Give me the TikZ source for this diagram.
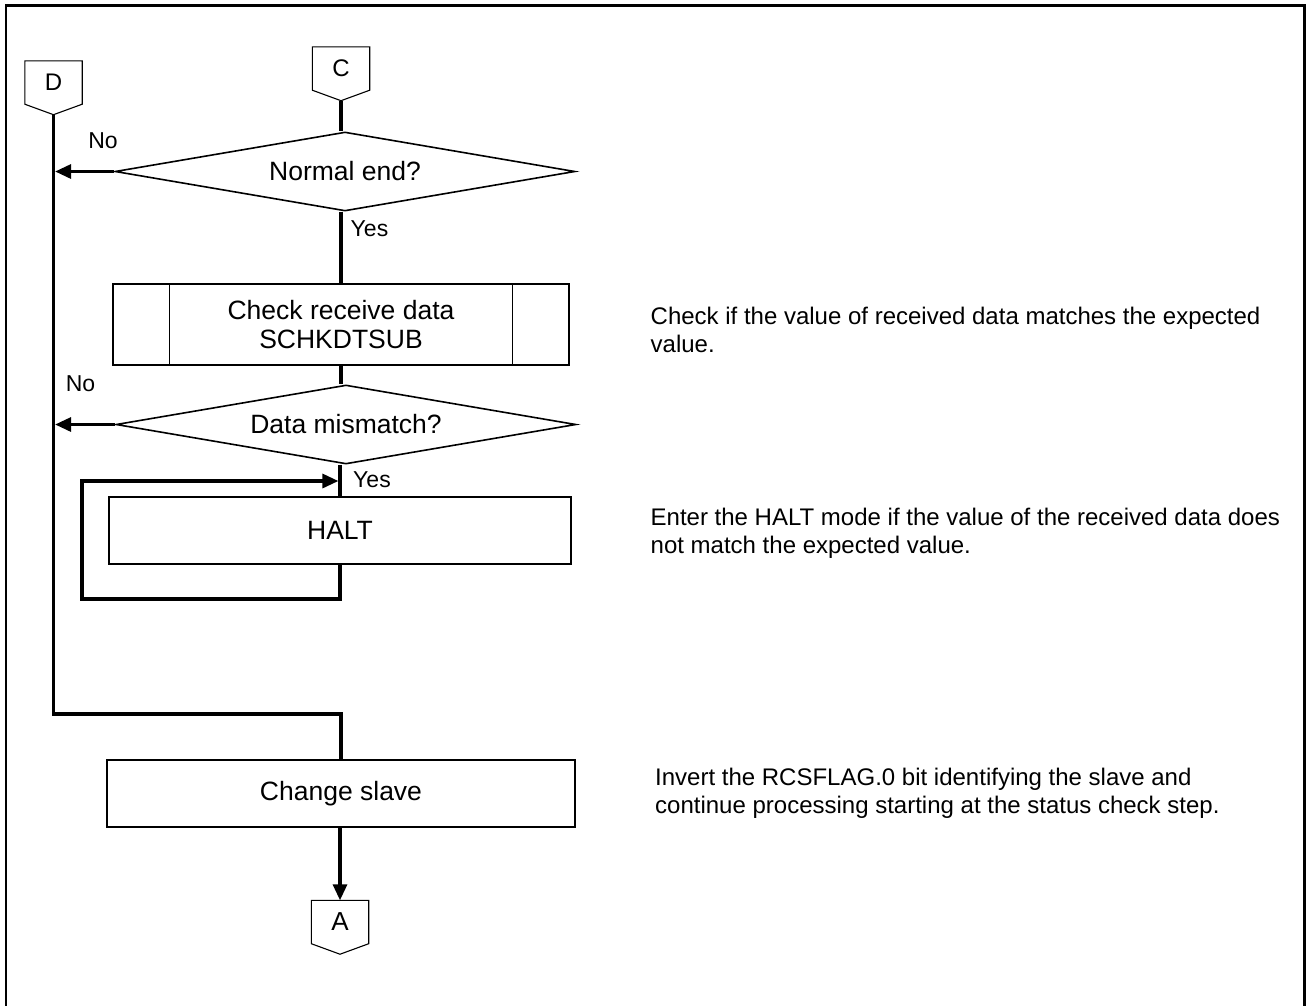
\documentclass[tikz,border=0pt]{standalone}
\usepackage{fontspec}
\setmainfont{Liberation Sans}
\usetikzlibrary{arrows.meta,shapes.geometric,calc}
\begin{document}
\begin{tikzpicture}[x=1pt,y=-1pt,
  thickline/.style={line width=3.2pt},
  arrowed/.style={-{Triangle[length=16pt,width=14pt]}},
  shapeline/.style={draw,line width=1.6pt},
  connline/.style={line width=1.1pt},
  conn/.style={minimum width=57pt,minimum height=43pt,inner sep=0pt,font=\fontsize{24}{28}\selectfont},
  decision/.style={diamond,shapeline,aspect=5.82,minimum width=460pt,minimum height=79pt,inner sep=0pt,font=\fontsize{26.5}{29}\selectfont},
  proc/.style={rectangle,shapeline,inner sep=0pt,align=center,font=\fontsize{26.5}{29}\selectfont},
  lab/.style={inner sep=0pt,font=\fontsize{23}{27}\selectfont},
  note/.style={anchor=north west,inner sep=0pt,align=left,font=\fontsize{24}{28}\selectfont}]
\useasboundingbox (0,0) rectangle (1306,1005);
% frame
\draw[line width=2.5pt] (6.2,1008) -- (6.2,5.3) -- (1304.3,5.3) -- (1304.3,1008);

% connectors
\node[conn] (C) at (341,68.5) {C};
\node[conn] (D) at (53.5,82.5) {D};
\node[conn,font=\fontsize{26}{28}\selectfont] (A) at (340,922) {A};
\foreach \n in {C,D,A}{
  \draw[connline] (\n.north west) -- (\n.north east) -- (\n.south east)
    -- ([yshift=-10.5pt]\n.south) -- (\n.south west) -- cycle;
}
\coordinate (Cp) at ([yshift=-10.5pt]C.south);
\coordinate (Dp) at ([yshift=-10.5pt]D.south);

% decisions and processes
\node[decision] (d1) at (345,171.5) {Normal end?};
\node[proc,minimum width=456.5pt,minimum height=80.5pt] (b1) at (341,324.5) {Check receive data\\SCHKDTSUB};
\draw[line width=1.6pt] ([xshift=57.5pt]b1.north west) -- ([xshift=57.5pt]b1.south west);
\draw[line width=1.6pt] ([xshift=-57.5pt]b1.north east) -- ([xshift=-57.5pt]b1.south east);
\node[decision] (d2) at (346,424.5) {Data mismatch?};
\node[proc,minimum width=462pt,minimum height=67pt] (h) at (340,530.5) {HALT};
\node[proc,minimum width=468pt,minimum height=67pt] (cs) at (341,793.5) {Change slave};

% labels
\node[lab] (no1) at (103,140.5) {No};
\node[lab] (yes1) at (369.5,229) {Yes};
\node[lab] (no2) at (80.5,384) {No};
\node[lab] (yes2) at (372,480) {Yes};

% connectors (lines)
\draw[thickline] (Cp) -- (Cp |- d1.north);
\draw[thickline,arrowed] (d1.west) -- ($(Dp |- d1.west)+(1.6,0)$);
\draw[thickline] (b1.north |- d1.south) -- (b1.north);
\draw[thickline] (b1.south) -- (b1.south |- d2.north);
\draw[thickline,arrowed] (d2.west) -- ($(Dp |- d2.west)+(1.6,0)$);
\draw[thickline] (h.north |- d2.south) -- (h.north);
\coordinate (lb) at (82,599);
\coordinate (lt) at (82,481);
\draw[thickline,arrowed] (h.south) |- (lb) -- (lt) -- ($(h.north |- lt)+(-1.6,0)$);
\coordinate (Dj) at (53.5,714);
\draw[thickline] (Dp) -- (Dj) -| (cs.north);
\draw[thickline,arrowed] (A.north |- cs.south) -- (A.north);

% notes
\node[note] (n1) at (650.5,306.5) {Check if the value of received data matches the expected\\value.};
\node[note] (n2) at (650.5,507.5) {Enter the HALT mode if the value of the received data does\\not match the expected value.};
\node[note] (n3) at (655,767.5) {Invert the RCSFLAG.0 bit identifying the slave and\\continue processing starting at the status check step.};
\end{tikzpicture}
\end{document}
